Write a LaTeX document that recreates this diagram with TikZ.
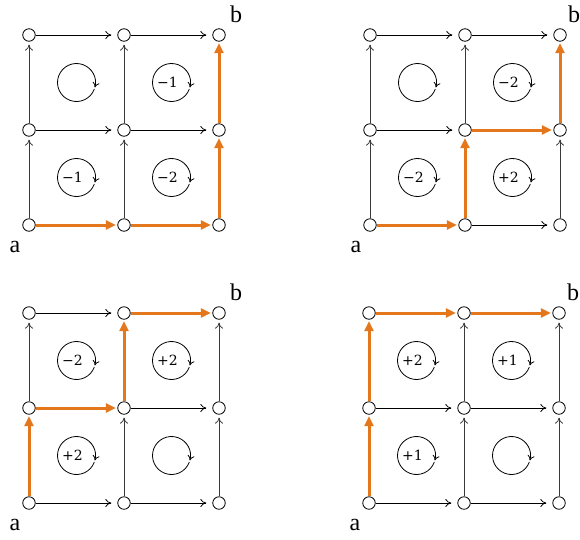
\documentclass[tikz,border=0pt]{standalone}
\usepackage{fontspec}
\setmainfont{Liberation Serif}
\newfontfamily\chargefont{DejaVu Serif}
\usetikzlibrary{arrows.meta,calc}
\definecolor{pathorange}{HTML}{E4761C}
\definecolor{edgegray}{HTML}{3A3A3A}
\tikzset{
  vtx/.style={circle, draw=black, fill=white, line width=0.8pt, minimum size=12.5pt, inner sep=0pt},
  edgeh/.style={-{To[length=6pt,width=8pt]}, line width=0.8pt, draw=black, shorten >=6pt},
  edgev/.style={-{To[length=6pt,width=8pt]}, line width=0.8pt, draw=edgegray, shorten >=3pt},
  hot/.style={-{Triangle[length=10pt,width=9pt]}, line width=3pt, draw=pathorange, shorten >=1.5pt},
  curl/.style={line width=0.8pt, -{To[length=5pt,width=7pt]}},
  charge/.style={font=\chargefont\fontsize{14}{14}\selectfont, inner sep=0pt},
  endlabel/.style={font=\fontsize{24}{24}\selectfont, inner sep=0pt}
}
% one 3x3 lattice: #1 name, #2 x, #3 y of the lower left vertex (y grows downward),
% #4..#7 charges of the top-left, top-right, bottom-left, bottom-right cells
\newcommand\lattice[7]{%
  \foreach \i in {0,1,2}{\foreach \j in {0,1,2}{
    \node[vtx] (#1-\i\j) at (#2+95*\i, #3-95*\j) {};}}
  \foreach \cx/\cy/\q in {0/1/#4, 1/1/#5, 0/0/#6, 1/0/#7}{
    \coordinate (#1-c\cx\cy) at (#2+95*\cx+47.5, #3-95*\cy-47.5);
    \draw[curl] ($(#1-c\cx\cy)+(20:19)$) arc[start angle=20, end angle=375, radius=19];
    \node[charge] at ($(#1-c\cx\cy)+(-4,0)$) {\q};
  }
  \node[endlabel] (#1-a) at ($(#1-00)+(-14,22)$) {a};
}
\begin{document}
\begin{tikzpicture}[x=1pt,y=-1pt]
\useasboundingbox (0,0) rectangle (580,539);

\lattice{p}{29}{225}{}{−1}{−1}{−2}
\node[endlabel] (p-b) at ($(p-22)+(17,-21)$) {b};
\foreach \s/\t in {00/01, 10/11, 01/02, 11/12}{\draw[edgev] (p-\s) -- (p-\t);}
\foreach \s/\t in {01/11, 11/21, 02/12, 12/22}{\draw[edgeh] (p-\s) -- (p-\t);}
\foreach \s/\t in {00/10, 10/20, 20/21, 21/22}{\draw[hot] (p-\s) -- (p-\t);}

\lattice{q}{370}{225}{}{−2}{−2}{+2}
\node[endlabel] (q-b) at ($(q-22)+(14,-21)$) {b};
\foreach \s/\t in {00/01, 20/21, 01/02, 11/12}{\draw[edgev] (q-\s) -- (q-\t);}
\foreach \s/\t in {10/20, 01/11, 02/12, 12/22}{\draw[edgeh] (q-\s) -- (q-\t);}
\foreach \s/\t in {00/10, 10/11, 11/21, 21/22}{\draw[hot] (q-\s) -- (q-\t);}

\lattice{r}{29}{503}{−2}{+2}{+2}{}
\node[endlabel] (r-b) at ($(r-22)+(17,-21)$) {b};
\foreach \s/\t in {10/11, 20/21, 01/02, 21/22}{\draw[edgev] (r-\s) -- (r-\t);}
\foreach \s/\t in {00/10, 10/20, 11/21, 02/12}{\draw[edgeh] (r-\s) -- (r-\t);}
\foreach \s/\t in {00/01, 01/11, 11/12, 12/22}{\draw[hot] (r-\s) -- (r-\t);}

\lattice{s}{369}{503}{+2}{+1}{+1}{}
\node[endlabel] (s-b) at ($(s-22)+(14,-21)$) {b};
\foreach \s/\t in {10/11, 20/21, 11/12, 21/22}{\draw[edgev] (s-\s) -- (s-\t);}
\foreach \s/\t in {00/10, 10/20, 01/11, 11/21}{\draw[edgeh] (s-\s) -- (s-\t);}
\foreach \s/\t in {00/01, 01/02, 02/12, 12/22}{\draw[hot] (s-\s) -- (s-\t);}
\end{tikzpicture}
\end{document}
